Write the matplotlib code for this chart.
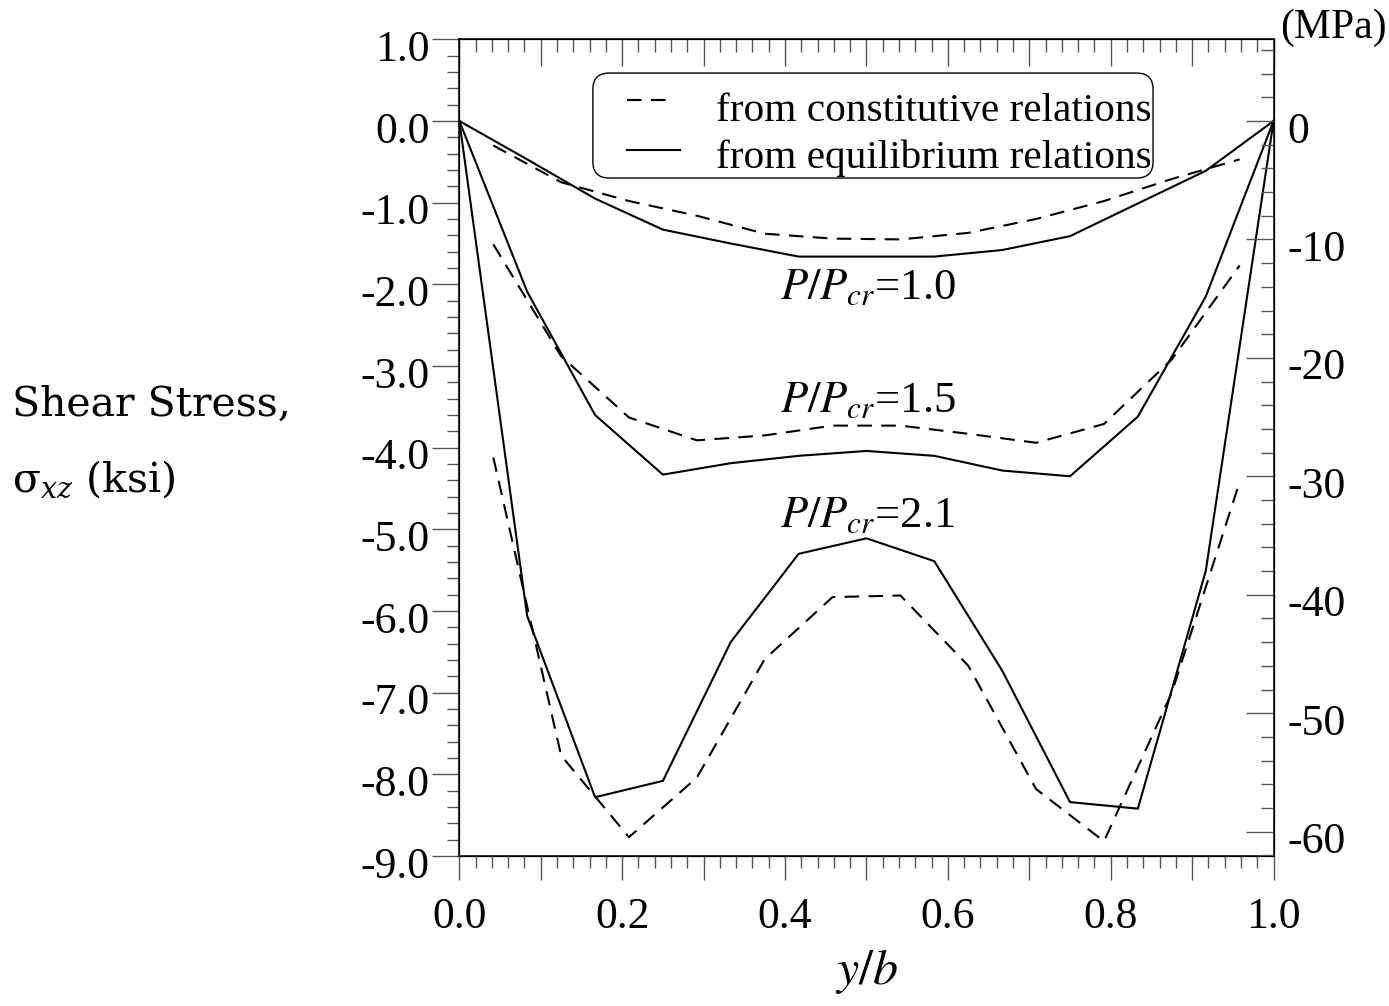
import matplotlib
matplotlib.use('Agg')
import matplotlib.pyplot as plt
import matplotlib.transforms as mtransforms
from matplotlib.patches import FancyBboxPatch
from matplotlib.ticker import MultipleLocator, FuncFormatter

plt.rcParams['font.family'] = ['Liberation Serif', 'DejaVu Serif']
plt.rcParams['axes.unicode_minus'] = False

# y/b positions: nodes (equilibrium) and element centres (constitutive)
x_node = [0.0, 0.0833, 0.1667, 0.25, 0.3333, 0.4167, 0.5,
          0.5833, 0.6667, 0.75, 0.8333, 0.9167, 1.0]
x_elem = [0.0417, 0.125, 0.2083, 0.2917, 0.375, 0.4583,
          0.5417, 0.625, 0.7083, 0.7917, 0.875, 0.9583]

# shear stress (ksi)
eq_10 = [0, -0.47, -0.95, -1.33, -1.50, -1.66, -1.66, -1.66, -1.58, -1.41, -1.01, -0.61, 0]
con_10 = [-0.30, -0.75, -0.98, -1.16, -1.38, -1.44, -1.45, -1.37, -1.20, -0.98, -0.71, -0.47]

eq_15 = [0, -2.09, -3.60, -4.33, -4.19, -4.10, -4.04, -4.10, -4.28, -4.35, -3.62, -2.15, 0]
con_15 = [-1.51, -2.88, -3.63, -3.91, -3.85, -3.73, -3.73, -3.83, -3.94, -3.71, -2.92, -1.77]

eq_21 = [0, -6.06, -8.28, -8.08, -6.38, -5.30, -5.11, -5.39, -6.73, -8.34, -8.42, -5.51, 0]
con_21 = [-4.12, -7.77, -8.77, -8.04, -6.59, -5.83, -5.81, -6.67, -8.18, -8.82, -7.00, -4.42]

labels = ['$P/P_{cr}$=1.0', '$P/P_{cr}$=1.5', '$P/P_{cr}$=2.1']
label_pos = [(0.394, -2.185), (0.394, -3.56), (0.394, -4.97)]

legend_labels = ['from constitutive relations', 'from equilibrium relations']

KSI_TO_MPA = 6.895

fig = plt.figure(figsize=(13.89, 10.06), dpi=100)
ax = fig.add_axes([0.3307, 0.1491, 0.5862, 0.8118])

dash = (7, 4.5)
ax.plot(x_elem, con_10, color='black', lw=1.5, dashes=dash)
ax.plot(x_node, eq_10, color='black', lw=1.5)
ax.plot(x_elem, con_15, color='black', lw=1.5, dashes=dash)
ax.plot(x_node, eq_15, color='black', lw=1.5)
ax.plot(x_elem, con_21, color='black', lw=1.5, dashes=dash)
ax.plot(x_node, eq_21, color='black', lw=1.5)

for txt, (tx, ty) in zip(labels, label_pos):
    ax.text(tx, ty, txt, fontsize=32, math_fontfamily='stix', va='baseline', ha='left')

ax.set_xlim(0, 1)
ax.set_ylim(-9, 1)

# bottom / left ticks
ax.xaxis.set_major_locator(MultipleLocator(0.1))
ax.xaxis.set_minor_locator(MultipleLocator(0.02))
ax.xaxis.set_major_formatter(FuncFormatter(
    lambda v, p: f'{v:.1f}' if abs(v / 0.2 - round(v / 0.2)) < 1e-6 else ''))
ax.yaxis.set_major_locator(MultipleLocator(1.0))
ax.yaxis.set_minor_locator(MultipleLocator(0.2))
ax.yaxis.set_major_formatter(FuncFormatter(lambda v, p: f'{v:.1f}'))

tick_col = '#555555'
ax.tick_params(axis='x', which='major', direction='out', length=17.5, width=1.0,
               color=tick_col, labelsize=31.5, pad=12, top=False)
ax.tick_params(axis='x', which='minor', direction='out', length=8.6, width=1.0,
               color=tick_col, top=False)
ax.tick_params(axis='y', which='major', direction='out', length=19.5, width=1.0,
               color=tick_col, labelsize=31.5, pad=2, right=False)
ax.tick_params(axis='y', which='minor', direction='out', length=8.6, width=1.0,
               color=tick_col, right=False)
for s in ax.spines.values():
    s.set_linewidth(1.1)

# top ticks point inward
axt = ax.twiny()
axt.set_xlim(0, 1)
axt.xaxis.set_major_locator(MultipleLocator(0.1))
axt.xaxis.set_minor_locator(MultipleLocator(0.02))
axt.tick_params(axis='x', which='major', direction='in', length=19.5, width=1.0,
                color=tick_col, labeltop=False)
axt.tick_params(axis='x', which='minor', direction='in', length=9.4, width=1.0,
                color=tick_col)

# right axis in MPa, ticks inward
axr = ax.twinx()
axr.set_ylim(-9 * KSI_TO_MPA, 1 * KSI_TO_MPA)
axr.yaxis.set_major_locator(MultipleLocator(10))
axr.yaxis.set_minor_locator(MultipleLocator(2))
axr.yaxis.set_major_formatter(FuncFormatter(lambda v, p: f'{v:.0f}'))
axr.tick_params(axis='y', which='major', direction='in', length=20, width=1.0,
                color=tick_col, labelsize=31.5, pad=10)
axr.tick_params(axis='y', which='minor', direction='in', length=9.4, width=1.0,
                color=tick_col)

# tick labels sit a little below their ticks
shift = mtransforms.ScaledTranslation(0, -6 / 100, fig.dpi_scale_trans)
for t in ax.yaxis.get_major_ticks():
    t.label1.set_transform(t.label1.get_transform() + shift)
for t in axr.yaxis.get_major_ticks():
    t.label2.set_transform(t.label2.get_transform() + shift)

# legend box (drawn by hand to match the rounded frame)
box = FancyBboxPatch((0.164, 0.8302), 0.688, 0.1285,
                     boxstyle='round,pad=0,rounding_size=0.02',
                     transform=ax.transAxes, facecolor='white', edgecolor='black',
                     lw=1.0, zorder=5)
ax.add_patch(box)
ax.plot([0.206, 0.254], [0.9257, 0.9257], transform=ax.transAxes, color='black',
        lw=1.5, dashes=dash, zorder=6)
ax.plot([0.206, 0.271], [0.8645, 0.8645], transform=ax.transAxes, color='black',
        lw=1.5, zorder=6)
ax.text(0.3153, 0.9003, legend_labels[0], transform=ax.transAxes, fontsize=29.7,
        va='baseline', ha='left', zorder=6)
ax.text(0.3153, 0.8424, legend_labels[1], transform=ax.transAxes, fontsize=29.7,
        va='baseline', ha='left', zorder=6)

fig.text(12 / 1389, 1 - 405 / 1006, 'Shear Stress,', family='DejaVu Serif',
         fontsize=29.5, ha='left', va='center')
fig.text(12 / 1389, 1 - 480 / 1006, r'$\mathrm{σ}_{xz}$ (ksi)', family='DejaVu Serif',
         math_fontfamily='dejavuserif', fontsize=29.5, ha='left', va='center')
fig.text(866 / 1389, 1 - 972 / 1006, r'$y/b$', fontsize=36, math_fontfamily='stix',
         ha='center', va='center')
fig.text(1280 / 1389, 1 - 28 / 1006, '(MPa)', fontsize=30, ha='left', va='center')

fig.savefig('out.png', dpi=100)
